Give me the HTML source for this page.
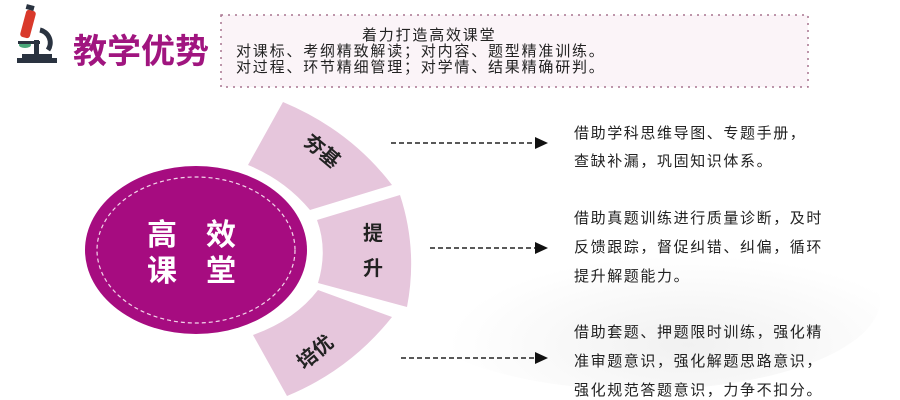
<!DOCTYPE html>
<html><head><meta charset="utf-8"><style>
body{margin:0;background:#fff;}
svg{display:block;}
text{font-family:"Liberation Sans","Noto Sans CJK SC",sans-serif;}
</style></head><body>
<svg width="900" height="400" viewBox="0 0 900 400">
<defs>
<radialGradient id="bg" cx="0.6" cy="0.75" r="0.5"><stop offset="0" stop-color="#f1f1f1"/><stop offset="1" stop-color="#ffffff"/></radialGradient>
</defs>
<rect width="900" height="400" fill="#fff"/>
<ellipse cx="640" cy="300" rx="240" ry="90" fill="url(#bg)"/>
<!-- microscope -->
<rect x="17" y="58" width="40" height="5" fill="#2a3340"/>
<rect x="22" y="54" width="30" height="5" fill="#2a3340"/>
<rect x="34" y="40" width="5" height="15" fill="#2a3340"/>
<path d="M40 30 A13 13 0 0 1 48 50" stroke="#2a3340" stroke-width="5" fill="none"/>
<rect x="23" y="10" width="10" height="28" rx="3" transform="rotate(15 28 24)" fill="#d9392b"/>
<rect x="26" y="5" width="8" height="5" fill="#2a3340" transform="rotate(15 30 8)"/>
<ellipse cx="25" cy="45" rx="6" ry="3" fill="#4aa87a"/>
<rect x="18" y="41" width="22" height="3" fill="#2a3340"/>
<text x="73" y="63" font-size="34" font-weight="bold" fill="#a0157f">教学优势</text>
<!-- header box -->
<rect x="221" y="15" width="587" height="72" fill="#fbf4f8" stroke="#a8758f" stroke-width="1.5" stroke-dasharray="2 5"/>
<g font-size="15" fill="#222" letter-spacing="1.8">
<text x="362" y="40">着力打造高效课堂</text>
<text x="236" y="56">对课标、考纲精致解读；对内容、题型精准训练。</text>
<text x="236" y="72">对过程、环节精细管理；对学情、结果精确研判。</text>
</g>
<!-- segments -->
<g fill="#e6c6dc">
<path d="M283 102 Q350 130 392 185 L310 210 Q285 180 248 165 Z"/>
<path d="M317 220 L400 195 Q418 250 407 307 L318 283 Q328 250 317 220 Z"/>
<path d="M318 290 L392 317 Q350 370 287 396 L253 335 Q295 320 318 290 Z"/>
</g>
<!-- center ellipse -->
<ellipse cx="196" cy="250" rx="111" ry="84" fill="#a60c80"/>
<ellipse cx="196" cy="250" rx="99" ry="73" fill="none" stroke="#f3d6ea" stroke-width="1.2" stroke-dasharray="4 3"/>
<g font-size="30" font-weight="bold" fill="#fff">
<text x="147" y="245">高</text><text x="206" y="245">效</text>
<text x="147" y="281">课</text><text x="206" y="281">堂</text>
</g>
<g font-size="20" font-weight="bold" fill="#222">
<text x="300" y="150" transform="rotate(40 310 150)">夯基</text>
<text x="363" y="240">提</text>
<text x="363" y="275">升</text>
<text x="294" y="358" transform="rotate(-40 316 350)">培优</text>
</g>
<!-- arrows -->
<g stroke="#222" stroke-width="1.5" stroke-dasharray="5 3">
<line x1="391" y1="143" x2="537" y2="143"/>
<line x1="430" y1="248" x2="537" y2="248"/>
<line x1="401" y1="358" x2="537" y2="358"/>
</g>
<g fill="#111">
<path d="M535 137 L548 143 L535 149 Z"/>
<path d="M535 242 L548 248 L535 254 Z"/>
<path d="M535 352 L548 358 L535 364 Z"/>
</g>
<g font-size="15" fill="#222" letter-spacing="1.6">
<text x="574" y="138">借助学科思维导图、专题手册，</text>
<text x="574" y="166">查缺补漏，巩固知识体系。</text>
<text x="574" y="223">借助真题训练进行质量诊断，及时</text>
<text x="574" y="252">反馈跟踪，督促纠错、纠偏，循环</text>
<text x="574" y="281">提升解题能力。</text>
<text x="574" y="337">借助套题、押题限时训练，强化精</text>
<text x="574" y="366">准审题意识，强化解题思路意识，</text>
<text x="574" y="395">强化规范答题意识，力争不扣分。</text>
</g>
</svg>
</body></html>
